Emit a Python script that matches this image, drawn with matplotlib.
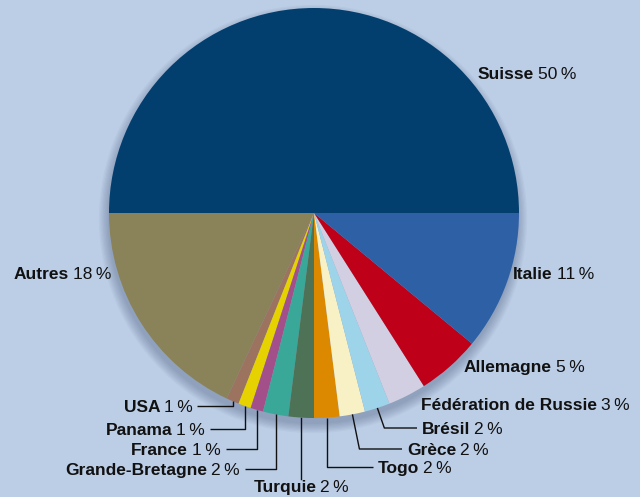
import matplotlib.pyplot as plt
from matplotlib.patches import Circle
import numpy as np

# data (counter-clockwise from 3 o'clock)
countries = ["Suisse", "Autres", "USA", "Panama", "France", "Grande-Bretagne",
             "Turquie", "Togo", "Grèce", "Brésil", "Fédération de Russie",
             "Allemagne", "Italie"]
shares = [50, 18, 1, 1, 1, 2, 2, 2, 2, 2, 3, 5, 11]
colors = ["#033f6e", "#8a8359", "#9b735f", "#e6d200", "#a3508a", "#39a899",
          "#4e7256", "#dc8900", "#f8f1c6", "#9dd4ea", "#d2cfe2", "#bf0019",
          "#2e60a6"]

BG = "#bccde6"
W, H = 640, 497
CX, CY, R = 314, H - 213, 205

fig = plt.figure(figsize=(6.4, 4.97), dpi=100, facecolor=BG)
ax = fig.add_axes([0, 0, 1, 1])

# soft drop shadow, mostly below the pie
for i in range(8):
    ax.add_patch(Circle((CX - 1, CY - 6), R + i * 1.3, color="#1a2a50",
                        alpha=0.035, lw=0, zorder=1))

wedges, _ = ax.pie(shares, colors=colors, startangle=0, counterclock=True,
                   center=(CX, CY), radius=R, frame=True,
                   wedgeprops=dict(linewidth=0, zorder=2))
ax.set_xlim(0, W)
ax.set_ylim(0, H)
ax.set_aspect("equal")
ax.axis("off")

renderer = fig.canvas.get_renderer()


def label(name, pct, x, y, align="left"):
    y = H - y
    kw = dict(va="center_baseline", color="#111111", zorder=5,
              family="Liberation Sans", fontsize=12.5)
    t1 = ax.text(0, y, name, weight="bold", **kw)
    t2 = ax.text(0, y, f"{pct}\u2009%", weight="normal", **kw)
    w1 = t1.get_window_extent(renderer).width
    w2 = t2.get_window_extent(renderer).width
    gap = 4
    if align == "left":
        x0 = x
    elif align == "right":
        x0 = x - w1 - gap - w2
    else:
        x0 = x - (w1 + gap + w2) / 2
    t1.set_x(x0)
    t2.set_x(x0 + w1 + gap)


def edge_point(i):
    w = wedges[i]
    a = np.deg2rad((w.theta1 + w.theta2) / 2)
    return CX + R * np.cos(a), CY + R * np.sin(a)


def leader(i, y, x_end, dx=0):
    ex, ey = edge_point(i)
    yy = H - y
    ax.plot([ex, ex + dx, x_end], [ey, yy, yy], color="#111111", lw=1,
            zorder=4, solid_capstyle="butt")


# big slices
label("Suisse", 50, 478, 73)
label("Italie", 11, 513, 273)
label("Allemagne", 5, 464, 366)
label("Fédération de Russie", 3, 421, 404)
label("Autres", 18, 111, 273, "right")

# small slices with leader lines
leader(9, 428, 417, dx=7)
label("Brésil", 2, 422, 428)
leader(8, 449, 402, dx=7)
label("Grèce", 2, 407, 449)
leader(7, 467, 373)
label("Togo", 2, 378, 467)
ex, ey = edge_point(6)
ax.plot([ex, ex], [ey, H - 479], color="#111111", lw=1, zorder=4)
label("Turquie", 2, ex, 486, "center")
leader(5, 469, 245)
label("Grande-Bretagne", 2, 240, 469, "right")
leader(4, 449, 226)
label("France", 1, 221, 449, "right")
leader(3, 429, 210)
label("Panama", 1, 205, 429, "right")
leader(2, 406, 197)
label("USA", 1, 193, 406, "right")

fig.savefig("out.png", dpi=100, facecolor=BG)
